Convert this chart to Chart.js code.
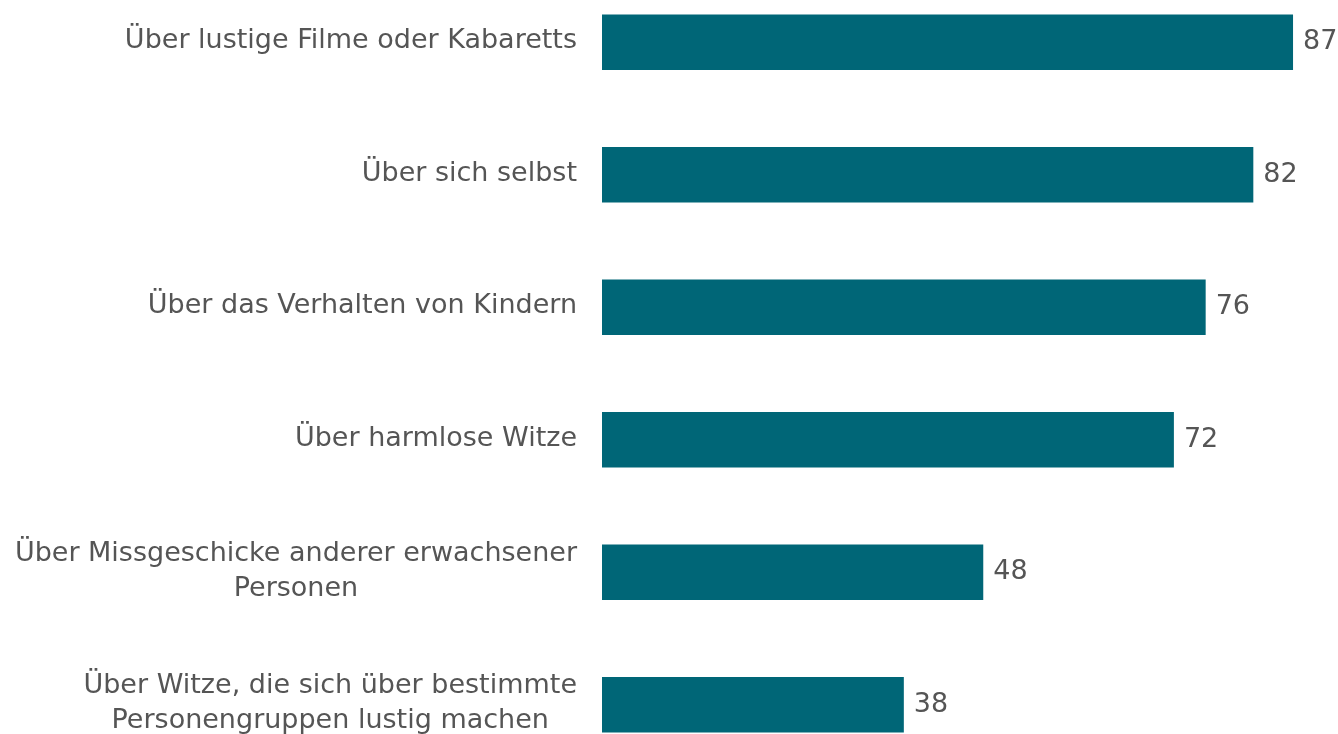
<!DOCTYPE html>
<html>
<head>
<meta charset="utf-8">
<script src="https://cdn.jsdelivr.net/npm/chart.js@4"></script>
<style>
  html, body { margin: 0; padding: 0; background: #fff; overflow: hidden; }
  #wrap { position: absolute; left: 0; top: -24px; width: 1338px; height: 795px; }
</style>
</head>
<body>
<div id="wrap"><canvas id="chart" width="1338" height="795"></canvas></div>
<script>
const categories = [
  ['Über lustige Filme oder Kabaretts'],
  ['Über sich selbst'],
  ['Über das Verhalten von Kindern'],
  ['Über harmlose Witze'],
  ['Über Missgeschicke anderer erwachsener', 'Personen'],
  ['Über Witze, die sich über bestimmte', 'Personengruppen lustig machen']
];
const values = [87, 82, 76, 72, 48, 38];

const barColor = '#006677';
const textColor = '#555555';
const font = '27px "DejaVu Sans", Verdana, sans-serif';

// draws category labels (right aligned block, lines centred) and value labels
const labelPlugin = {
  id: 'labels',
  afterDatasetsDraw(chart) {
    const ctx = chart.ctx;
    const yScale = chart.scales.y;
    const xScale = chart.scales.x;
    ctx.save();
    ctx.font = font;
    ctx.fillStyle = textColor;
    ctx.textBaseline = 'middle';
    categories.forEach((lines, i) => {
      const y = yScale.getPixelForValue(i);
      const lh = 35;
      const widths = lines.map(l => ctx.measureText(l).width);
      const maxW = Math.max(...widths);
      const right = 577;
      lines.forEach((l, j) => {
        const ly = y + (j - (lines.length - 1) / 2) * lh - 1;
        ctx.textAlign = 'center';
        ctx.fillText(l, right - maxW / 2, ly);
      });
      ctx.textAlign = 'left';
      ctx.fillText(String(values[i]), xScale.getPixelForValue(values[i]) + 10, y);
    });
    ctx.restore();
  }
};

new Chart(document.getElementById('chart'), {
  type: 'bar',
  data: {
    labels: categories.map(c => c.join(' ')),
    datasets: [{
      data: values,
      backgroundColor: barColor,
      borderWidth: 0,
      barPercentage: 0.42,
      categoryPercentage: 1
    }]
  },
  options: {
    indexAxis: 'y',
    responsive: false,
    animation: false,
    layout: { padding: 0 },
    plugins: {
      legend: { display: false },
      tooltip: { enabled: false }
    },
    scales: {
      x: {
        min: 0,
        max: 92.66,
        display: false,
        grid: { display: false }
      },
      y: {
        grid: { display: false },
        border: { display: false },
        ticks: { display: false },
        afterFit(scale) { scale.width = 602; }
      }
    }
  },
  plugins: [labelPlugin]
});
</script>
</body>
</html>
